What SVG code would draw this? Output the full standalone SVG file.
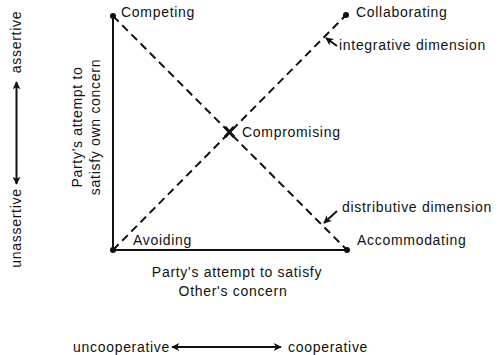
<svg xmlns="http://www.w3.org/2000/svg" width="501" height="355" viewBox="0 0 501 355">
<defs>
<style>
text{font-family:"Liberation Sans",Arial,Helvetica,sans-serif;font-size:14px;letter-spacing:0.7px;fill:#111}
.axis{stroke:#111;stroke-width:2;fill:none}
.dash{stroke:#111;stroke-width:2;fill:none;stroke-dasharray:8 5}
.arr{stroke:#111;stroke-width:2;fill:none}
.dot{fill:#111}
</style>
<marker id="ah" viewBox="0 0 10 10" refX="9" refY="5" markerWidth="11" markerHeight="8" markerUnits="userSpaceOnUse" orient="auto-start-reverse">
<path d="M0,0 L10,5 L0,10 L2.5,5 Z" fill="#111"/>
</marker>
</defs>
<rect width="501" height="355" fill="#fff"/>
<g id="connectors">
<line class="axis" x1="113" y1="16" x2="113" y2="250"/>
<line class="axis" x1="113" y1="250" x2="347" y2="250"/>
<line class="dash" x1="113" y1="16" x2="347" y2="250"/>
<line class="dash" x1="113" y1="250" x2="346" y2="15"/>
<line class="arr" x1="337" y1="46" x2="326" y2="38" marker-end="url(#ah)"/>
<line class="arr" x1="337" y1="211" x2="324" y2="223" marker-end="url(#ah)"/>
<path class="arr" d="M16.5,82 L16.5,184" marker-start="url(#ah)" marker-end="url(#ah)"/>
<line class="arr" x1="172" y1="347" x2="281" y2="347" marker-start="url(#ah)" marker-end="url(#ah)"/>
</g>
<g id="competing">
<circle class="dot" cx="113" cy="16" r="3"/>
<text x="121" y="17">Competing</text>
</g>
<g id="collaborating">
<circle class="dot" cx="346" cy="15" r="3"/>
<text x="356" y="17">Collaborating</text>
</g>
<g id="compromising">
<path d="M225,127 L234,137 M234,127 L225,137" stroke="#111" stroke-width="3"/>
<text x="242" y="137">Compromising</text>
</g>
<g id="avoiding">
<circle class="dot" cx="113" cy="250" r="3"/>
<text x="133" y="245">Avoiding</text>
</g>
<g id="accommodating">
<circle class="dot" cx="347" cy="250" r="3"/>
<text x="357" y="245">Accommodating</text>
</g>
<g id="integrative">
<text x="339" y="50">integrative dimension</text>
</g>
<g id="distributive">
<text x="342" y="212">distributive dimension</text>
</g>
<g id="x-axis-label">
<text x="237" y="277" text-anchor="middle">Party's attempt to satisfy</text>
<text x="233" y="296" text-anchor="middle">Other's concern</text>
</g>
<g id="y-axis-label">
<text transform="translate(82,127) rotate(-90)" text-anchor="middle">Party's attempt to</text>
<text transform="translate(100,127) rotate(-90)" text-anchor="middle">satisfy own concern</text>
</g>
<g id="assertiveness">
<text transform="translate(21,42) rotate(-90)" text-anchor="middle">assertive</text>
<text transform="translate(21,228) rotate(-90)" text-anchor="middle">unassertive</text>
</g>
<g id="cooperativeness">
<text x="73" y="352" letter-spacing="0.4">uncooperative</text>
<text x="288" y="352">cooperative</text>
</g>
</svg>
